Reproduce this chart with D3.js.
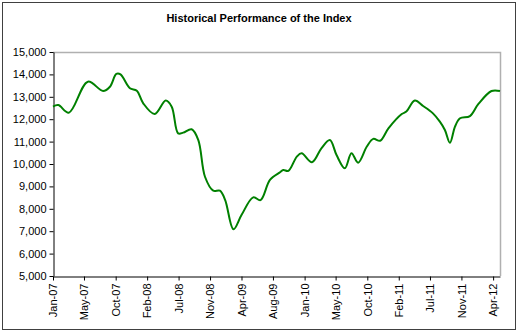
<!DOCTYPE html>
<html><head><meta charset="utf-8">
<script src="https://cdn.jsdelivr.net/npm/d3@7"></script>
<style>body{margin:0;background:#fff}svg{display:block;font-family:"Liberation Sans",Arial,sans-serif}</style>
</head><body><svg id="c" width="518" height="333"></svg>
<script>
const title = "Historical Performance of the Index";
const dates = ["2007-01-01","2007-01-24","2007-03-11","2007-06-02","2007-08-07","2007-09-06","2007-10-04","2007-10-22","2007-12-02","2008-01-01","2008-01-29","2008-03-19","2008-05-06","2008-06-01","2008-06-29","2008-07-21","2008-08-27","2008-09-25","2008-10-24","2008-11-29","2008-12-28","2009-01-20","2009-02-25","2009-04-01","2009-05-22","2009-06-23","2009-08-03","2009-09-16","2009-09-30","2009-10-22","2009-11-28","2009-12-19","2010-02-02","2010-03-15","2010-04-21","2010-05-20","2010-06-25","2010-07-24","2010-08-22","2010-09-29","2010-10-27","2010-11-26","2011-01-01","2011-02-28","2011-03-20","2011-04-26","2011-06-01","2011-07-14","2011-08-13","2011-09-04","2011-09-26","2011-10-18","2011-11-09","2011-12-22","2012-01-28","2012-03-25","2012-05-01"];
const values = [12560,12630,12290,13675,13260,13450,14020,14000,13380,13270,12710,12230,12830,12560,11370,11400,11550,11070,9430,8810,8810,8390,7085,7720,8510,8390,9290,9630,9730,9690,10330,10480,10080,10700,11070,10400,9810,10480,10060,10780,11120,11040,11590,12230,12340,12830,12590,12260,11890,11520,10950,11670,12040,12140,12680,13260,13260];
const xTickDates = ["2007-01-01","2007-05-16","2007-10-01","2008-02-15","2008-07-01","2008-11-15","2009-04-01","2009-08-16","2010-01-01","2010-05-16","2010-10-01","2011-02-15","2011-07-01","2011-11-15","2012-04-01"];
const yTicks = [5000,6000,7000,8000,9000,10000,11000,12000,13000,14000,15000];

const parse = d3.timeParse("%Y-%m-%d");
const data = dates.map((d,i)=>({d:parse(d), v:values[i]}));
const svg = d3.select("#c");
const L=53, R=500, T=52, B=276;

svg.append("rect").attr("x",2.5).attr("y",2.5).attr("width",513).attr("height",327)
  .attr("fill","#fff").attr("stroke","#404040").attr("stroke-width",1);

svg.append("text").attr("x",259).attr("y",22).attr("text-anchor","middle")
  .attr("font-size","11px").attr("font-weight","bold").text(title);

const x = d3.scaleTime().domain([parse(dates[0]), parse(dates[dates.length-1])]).range([L,R]);
const y = d3.scaleLinear().domain([5000,15000]).range([B,T]);

// plot frame (top/right gray)
svg.append("path").attr("d",`M${L},${T+0.5}H${R+0.5}V${B}`).attr("fill","none")
  .attr("stroke","#b0b0b0").attr("stroke-width",1.5);

const fmt = d3.format(",");
const ya = svg.append("g").attr("transform",`translate(${L+0.5},0)`)
  .call(d3.axisLeft(y).tickValues(yTicks).tickFormat(fmt).tickSize(4).tickSizeOuter(0));
ya.select(".domain").attr("stroke","#000");
ya.selectAll("line").attr("stroke","#000");
ya.selectAll("text").attr("font-size","11px").attr("font-family","Liberation Sans, Arial, sans-serif").attr("fill","#000").attr("x",-7);

const xa = svg.append("g").attr("transform",`translate(0,${B+0.5})`)
  .call(d3.axisBottom(x).tickValues(xTickDates.map(parse)).tickFormat(d3.timeFormat("%b-%y")).tickSize(4).tickSizeOuter(0));
xa.select(".domain").attr("stroke","#000");
xa.selectAll("line").attr("stroke","#000");
xa.selectAll("text").attr("font-size","11px").attr("font-family","Liberation Sans, Arial, sans-serif").attr("fill","#000")
  .attr("transform","rotate(-90)").attr("text-anchor","end").attr("x",-7).attr("y",0).attr("dy","0.35em");

const line = d3.line().x(d=>x(d.d)).y(d=>y(d.v)).curve(d3.curveCatmullRom.alpha(0.5));
svg.append("path").datum(data).attr("d",line).attr("fill","none")
  .attr("stroke","#008000").attr("stroke-width",2);
</script></body></html>
